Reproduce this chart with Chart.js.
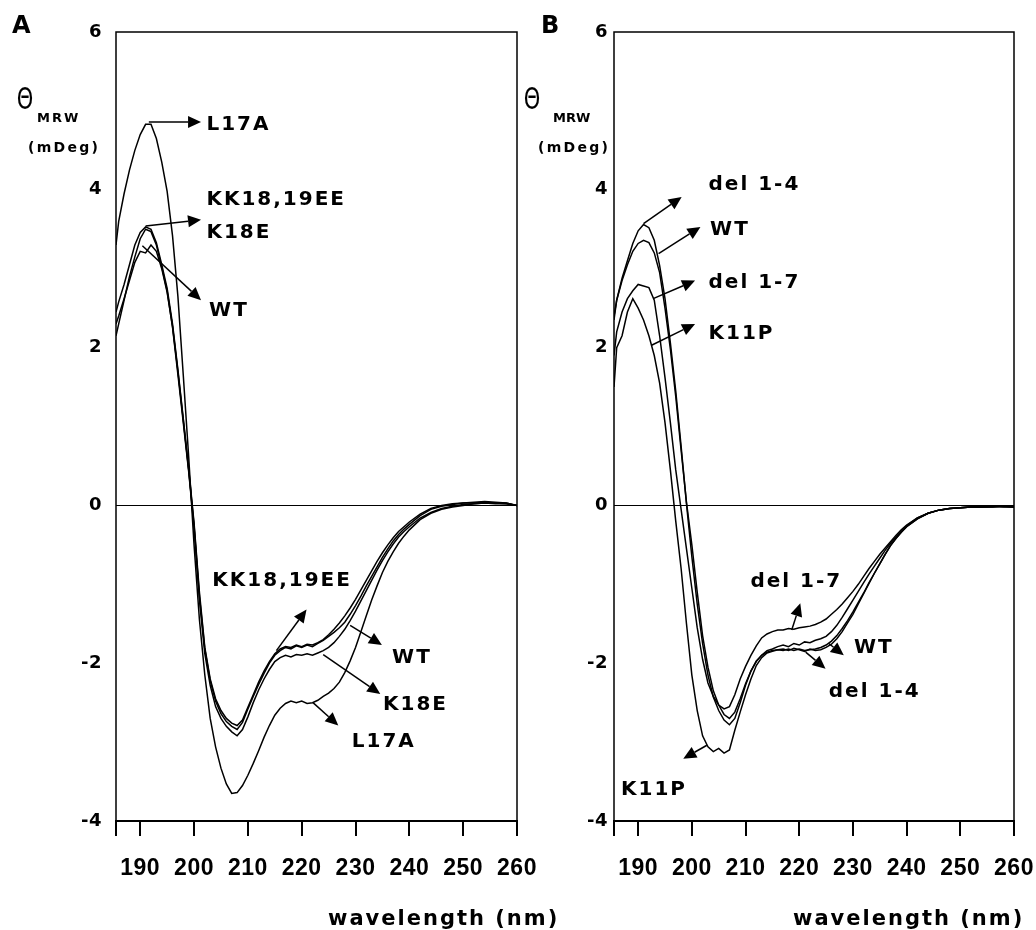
<!DOCTYPE html>
<html>
<head>
<meta charset="utf-8">
<script src="https://cdn.jsdelivr.net/npm/chart.js@4.4.0/dist/chart.umd.min.js"></script>
<style>
  html, body { margin: 0; padding: 0; background: #fff; }
  #wrap { position: relative; width: 1036px; height: 930px; }
  canvas { position: absolute; left: 0; top: 0; }
</style>
</head>
<body>
<div id="wrap">
  <canvas id="chartA" width="1036" height="930"></canvas>
  <canvas id="chartB" width="1036" height="930"></canvas>
</div>
<script>
// wavelength grid (nm) shared by every trace
const wavelengths = [185.5, 186, 187, 188, 189, 190, 191, 192, 193, 194, 195, 196, 197, 198, 199,
  200, 201, 202, 203, 204, 205, 206, 207, 208, 209, 210, 211, 212, 213, 214, 215, 216, 217, 218, 219,
  220, 221, 222, 223, 224, 225, 226, 227, 228, 229, 230, 231, 232, 233, 234, 235, 236, 237, 238, 239,
  240, 242, 244, 246, 248, 250, 252, 254, 256, 258, 260];

const xMin = 185.5, xMax = 260;
const xTickLabels = [190, 200, 210, 220, 230, 240, 250, 260];
const yTicks = [-4, -2, 0, 2, 4, 6];

// panel A
const aNames = ["WT", "K18E", "KK18,19EE", "L17A"];
const aWT = [2.3, 2.4, 2.62, 2.85, 3.08, 3.22, 3.2, 3.3, 3.22, 3.0, 2.7, 2.27, 1.7, 1.08, 0.45,
  -0.25, -1.15, -1.82, -2.22, -2.48, -2.64, -2.74, -2.8, -2.84, -2.75, -2.58, -2.42, -2.27, -2.13, -2.0,
  -1.9, -1.84, -1.8, -1.82, -1.78, -1.8, -1.77, -1.79, -1.75, -1.71, -1.66, -1.61, -1.55, -1.48, -1.38,
  -1.27, -1.15, -1.02, -0.9, -0.78, -0.66, -0.55, -0.45, -0.37, -0.3, -0.24, -0.13, -0.05, -0.01, 0.01,
  0.03, 0.03, 0.04, 0.03, 0.03, 0.0];
const aK18E = [2.15, 2.3, 2.6, 2.9, 3.15, 3.38, 3.5, 3.47, 3.3, 3.02, 2.72, 2.26, 1.66, 1.05, 0.43,
  -0.28, -1.2, -1.88, -2.28, -2.55, -2.7, -2.8, -2.87, -2.92, -2.84, -2.68, -2.5, -2.34, -2.2, -2.08,
  -1.98, -1.93, -1.9, -1.92, -1.89, -1.9, -1.88, -1.9, -1.87, -1.84, -1.8, -1.74, -1.66, -1.57, -1.46,
  -1.34, -1.21, -1.08, -0.95, -0.82, -0.7, -0.59, -0.49, -0.4, -0.33, -0.27, -0.16, -0.09, -0.04, -0.01,
  0.01, 0.02, 0.03, 0.02, 0.02, 0.0];
const aKK1819EE = [2.45, 2.58, 2.8, 3.05, 3.3, 3.46, 3.53, 3.5, 3.33, 3.05, 2.75, 2.3, 1.72, 1.1, 0.47,
  -0.22, -1.1, -1.8, -2.2, -2.45, -2.6, -2.7, -2.76, -2.79, -2.72, -2.56, -2.4, -2.24, -2.1, -1.98,
  -1.88, -1.82, -1.79, -1.8, -1.77, -1.79, -1.76, -1.77, -1.74, -1.7, -1.64, -1.57, -1.49, -1.4, -1.3,
  -1.19, -1.07, -0.95, -0.83, -0.71, -0.6, -0.5, -0.41, -0.33, -0.27, -0.21, -0.11, -0.04, 0.0, 0.02,
  0.03, 0.04, 0.05, 0.04, 0.03, 0.0];
const aL17A = [3.3, 3.6, 3.95, 4.25, 4.5, 4.7, 4.83, 4.83, 4.65, 4.35, 3.98, 3.42, 2.65, 1.65, 0.62,
  -0.5, -1.45, -2.15, -2.7, -3.06, -3.33, -3.53, -3.65, -3.64, -3.55, -3.42, -3.27, -3.11, -2.94, -2.79,
  -2.66, -2.57, -2.51, -2.48, -2.5, -2.48, -2.51, -2.5, -2.47, -2.42, -2.38, -2.32, -2.24, -2.12, -1.97,
  -1.8, -1.6, -1.4, -1.2, -1.02, -0.85, -0.71, -0.59, -0.48, -0.39, -0.31, -0.18, -0.1, -0.05, -0.02,
  0.0, 0.02, 0.03, 0.03, 0.02, 0.0];

// panel B
const bNames = ["WT", "del 1-4", "del 1-7", "K11P"];
const bWT = [2.4, 2.6, 2.85, 3.05, 3.22, 3.32, 3.36, 3.33, 3.2, 2.95, 2.5, 1.98, 1.38, 0.7, 0.04,
  -0.5, -1.1, -1.65, -2.05, -2.35, -2.53, -2.65, -2.7, -2.62, -2.45, -2.26, -2.1, -1.98, -1.9, -1.84,
  -1.82, -1.79, -1.77, -1.79, -1.75, -1.77, -1.73, -1.74, -1.71, -1.69, -1.66, -1.6, -1.52, -1.42, -1.31,
  -1.2, -1.09, -0.98, -0.87, -0.77, -0.67, -0.57, -0.48, -0.4, -0.33, -0.26, -0.16, -0.1, -0.06, -0.04,
  -0.03, -0.02, -0.02, -0.02, -0.01, -0.02];
const bDel14 = [2.35, 2.6, 2.88, 3.1, 3.32, 3.48, 3.56, 3.52, 3.36, 3.04, 2.62, 2.06, 1.45, 0.75, 0.02,
  -0.65, -1.25, -1.75, -2.15, -2.43, -2.6, -2.72, -2.78, -2.7, -2.5, -2.28, -2.1, -1.97, -1.9, -1.86,
  -1.84, -1.83, -1.82, -1.84, -1.81, -1.83, -1.85, -1.82, -1.84, -1.83, -1.8, -1.76, -1.69, -1.6, -1.49,
  -1.38, -1.25, -1.12, -0.99, -0.86, -0.74, -0.62, -0.51, -0.42, -0.34, -0.27, -0.17, -0.1, -0.06, -0.04,
  -0.03, -0.02, -0.02, -0.01, -0.02, -0.02];
const bDel17 = [1.9, 2.2, 2.45, 2.62, 2.72, 2.8, 2.78, 2.76, 2.6, 2.15, 1.62, 1.05, 0.45, -0.05, -0.55,
  -1.05, -1.55, -1.95, -2.25, -2.42, -2.53, -2.58, -2.55, -2.4, -2.2, -2.04, -1.9, -1.78, -1.68, -1.63,
  -1.6, -1.58, -1.58, -1.56, -1.57, -1.55, -1.54, -1.53, -1.51, -1.48, -1.44, -1.38, -1.32, -1.25, -1.17,
  -1.09, -1.0, -0.9, -0.8, -0.71, -0.62, -0.54, -0.46, -0.38, -0.31, -0.25, -0.16, -0.1, -0.06, -0.04,
  -0.03, -0.02, -0.02, -0.01, -0.01, -0.02];
const bK11P = [1.5, 2.0, 2.15, 2.45, 2.62, 2.5, 2.35, 2.15, 1.9, 1.55, 1.05, 0.45, -0.2, -0.8, -1.5,
  -2.15, -2.6, -2.92, -3.06, -3.12, -3.08, -3.14, -3.1, -2.85, -2.62, -2.4, -2.2, -2.03, -1.93, -1.87,
  -1.85, -1.83, -1.84, -1.82, -1.84, -1.82, -1.84, -1.83, -1.82, -1.8, -1.77, -1.72, -1.65, -1.56, -1.46,
  -1.35, -1.23, -1.11, -0.98, -0.86, -0.74, -0.62, -0.51, -0.42, -0.34, -0.27, -0.17, -0.1, -0.06, -0.04,
  -0.03, -0.02, -0.02, -0.02, -0.01, -0.02];

// labels + arrows, placed in data units (wavelength, mDeg)
const notesA = [
  { text: "L17A", at: [202.3, 4.82], from: [191.6, 4.86], to: [201.3, 4.86] },
  { text: "KK18,19EE", at: [202.3, 3.87] },
  { text: "K18E", at: [202.3, 3.46], from: [191.0, 3.54], to: [201.3, 3.62] },
  { text: "WT", at: [202.8, 2.47], from: [190.4, 3.29], to: [201.3, 2.6] },
  { text: "KK18,19EE", at: [203.4, -0.95], from: [215.3, -1.84], to: [220.9, -1.32] },
  { text: "WT", at: [236.8, -1.93], from: [229.0, -1.52], to: [234.9, -1.77] },
  { text: "K18E", at: [235.1, -2.53], from: [224.0, -1.89], to: [234.6, -2.39] },
  { text: "L17A", at: [229.3, -3.0], from: [222.1, -2.5], to: [226.8, -2.79] }
];
const notesB = [
  { text: "del 1-4", at: [203.1, 4.06], from: [191.0, 3.57], to: [198.1, 3.91] },
  { text: "WT", at: [203.4, 3.49], from: [193.8, 3.19], to: [201.6, 3.53] },
  { text: "del 1-7", at: [203.1, 2.82], from: [192.8, 2.62], to: [200.6, 2.85] },
  { text: "K11P", at: [203.1, 2.17], from: [192.5, 2.03], to: [200.6, 2.3] },
  { text: "del 1-7", at: [210.9, -0.97], from: [218.6, -1.58], to: [220.2, -1.24] },
  { text: "WT", at: [230.2, -1.81], from: [225.5, -1.75], to: [228.3, -1.9] },
  { text: "del 1-4", at: [225.5, -2.36], from: [221.2, -1.86], to: [224.9, -2.07] },
  { text: "K11P", at: [186.8, -3.6], from: [202.8, -3.04], to: [198.4, -3.21] }
];

const FONT = '"Liberation Sans", Arial, Helvetica, sans-serif';
const HEAVY = '"DejaVu Sans", Verdana, sans-serif';
Chart.defaults.font.family = FONT;
Chart.defaults.color = "#000";

function drawArrow(ctx, x1, y1, x2, y2) {
  const ang = Math.atan2(y2 - y1, x2 - x1);
  const head = 13, half = 6;
  const bx = x2 - head * Math.cos(ang), by = y2 - head * Math.sin(ang);
  ctx.beginPath();
  ctx.moveTo(x1, y1);
  ctx.lineTo(bx, by);
  ctx.stroke();
  ctx.beginPath();
  ctx.moveTo(x2, y2);
  ctx.lineTo(bx + half * Math.sin(ang), by - half * Math.cos(ang));
  ctx.lineTo(bx - half * Math.sin(ang), by + half * Math.cos(ang));
  ctx.closePath();
  ctx.fill();
}

function spaced(ctx, px) {
  if ("letterSpacing" in ctx) ctx.letterSpacing = px + "px";
}

function decor(o) {
  return {
    id: "decor",
    beforeDraw(chart) { spaced(chart.ctx, 0.5); },
    afterDraw(chart) {
      const ctx = chart.ctx, ca = chart.chartArea;
      const xs = chart.scales.x, ys = chart.scales.y;
      ctx.save();
      ctx.strokeStyle = "#000";
      ctx.fillStyle = "#000";
      ctx.lineWidth = 1.5;
      ctx.strokeRect(ca.left, ca.top, ca.right - ca.left, ca.bottom - ca.top);

      // annotations
      ctx.font = "bold 20px " + HEAVY;
      spaced(ctx, 2);
      ctx.textBaseline = "middle";
      ctx.textAlign = "left";
      o.notes.forEach(n => {
        ctx.fillText(n.text, xs.getPixelForValue(n.at[0]), ys.getPixelForValue(n.at[1]));
        if (n.from) {
          drawArrow(ctx, xs.getPixelForValue(n.from[0]), ys.getPixelForValue(n.from[1]),
            xs.getPixelForValue(n.to[0]), ys.getPixelForValue(n.to[1]));
        }
      });

      // panel letter
      spaced(ctx, 0);
      ctx.textBaseline = "alphabetic";
      ctx.font = "bold 24px " + HEAVY;
      ctx.fillText(o.letter, o.letterX, 33);

      // y axis title
      ctx.save();
      ctx.translate(o.thetaX, 101);
      ctx.scale(0.7, 1);
      ctx.font = "30px " + HEAVY;
      ctx.textAlign = "center";
      ctx.textBaseline = "middle";
      ctx.fillText("\u0398", 0, 0);
      ctx.restore();
      ctx.font = "bold 13px " + HEAVY;
      spaced(ctx, o.mrwSpacing);
      ctx.fillText("MRW", o.mrwX, 122);
      ctx.font = "bold 14px " + HEAVY;
      spaced(ctx, 2.3);
      ctx.textBaseline = "middle";
      ctx.fillText("(mDeg)", o.mdegX, 148);

      // x axis title
      ctx.textBaseline = "alphabetic";
      ctx.font = "bold 21px " + HEAVY;
      spaced(ctx, 2);
      ctx.fillText("wavelength (nm)", o.titleX, 925);
      ctx.restore();
      spaced(ctx, 0);
    }
  };
}

function makeChart(id, names, values, o) {
  return new Chart(document.getElementById(id), {
    type: "line",
    data: {
      datasets: names.map((name, k) => ({
        label: name,
        data: wavelengths.map((w, i) => ({ x: w, y: values[k][i] })),
        borderColor: "#000",
        borderWidth: 1.5,
        pointRadius: 0,
        tension: 0,
        fill: false
      }))
    },
    options: {
      responsive: false,
      animation: false,
      devicePixelRatio: 1,
      layout: { padding: o.padding },
      plugins: { legend: { display: false }, tooltip: { enabled: false } },
      scales: {
        x: {
          type: "linear",
          min: xMin,
          max: xMax,
          afterBuildTicks: s => { s.ticks = [{ value: xMin }].concat(xTickLabels.map(v => ({ value: v }))); },
          ticks: {
            autoSkip: false,
            maxRotation: 0,
            padding: 19,
            color: "#000",
            font: { size: 23, weight: "bold" },
            callback: v => (xTickLabels.includes(v) ? String(v) : "")
          },
          grid: { display: true, drawOnChartArea: false, drawTicks: true, tickLength: 15, color: "#000", lineWidth: 2 },
          border: { display: true, color: "#000", width: 2 },
          afterFit: s => { s.height = 109; s.paddingLeft = 0; s.paddingRight = 0; }
        },
        y: {
          min: -4,
          max: 6,
          afterBuildTicks: s => { s.ticks = yTicks.map(v => ({ value: v })); },
          ticks: { padding: o.yPad, color: "#000", font: { family: HEAVY, size: 18, weight: "bold" } },
          grid: {
            drawTicks: false,
            lineWidth: 1,
            color: c => (c.tick && c.tick.value === 0 ? "#000" : "rgba(0,0,0,0)")
          },
          border: { display: false },
          afterFit: s => { s.width = o.yWidth; s.paddingTop = 0; s.paddingBottom = 0; }
        }
      }
    },
    plugins: [decor(o)]
  });
}

makeChart("chartA", aNames, [aWT, aK18E, aKK1819EE, aL17A], {
  padding: { left: 0, right: 519, top: 32, bottom: 0 },
  yWidth: 116, yPad: 14, notes: notesA,
  letter: "A", letterX: 12, thetaX: 25, mrwX: 37, mrwSpacing: 2, mdegX: 28, titleX: 328
});

makeChart("chartB", bNames, [bWT, bDel14, bDel17, bK11P], {
  padding: { left: 514, right: 22, top: 32, bottom: 0 },
  yWidth: 100, yPad: 6, notes: notesB,
  letter: "B", letterX: 541, thetaX: 532, mrwX: 553, mrwSpacing: 0, mdegX: 538, titleX: 793
});
</script>
</body>
</html>
